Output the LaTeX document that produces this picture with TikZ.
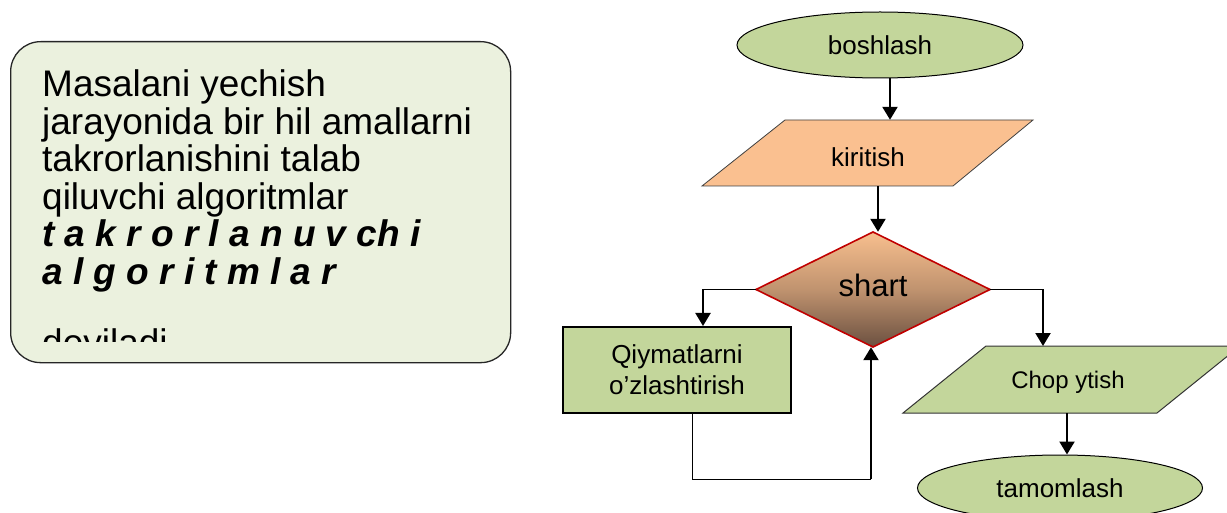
\documentclass[tikz,border=0pt]{standalone}
\usepackage{fontspec}
\setmainfont{Liberation Sans}
\usetikzlibrary{arrows.meta,shapes.geometric}
\definecolor{boxgreen}{HTML}{EBF1DE}
\definecolor{flowgreen}{HTML}{C3D69B}
\definecolor{inorange}{HTML}{FAC090}
\definecolor{shtop}{HTML}{F8BF8E}
\definecolor{shbot}{HTML}{6B5040}
\definecolor{shred}{HTML}{C00000}
\begin{document}
\begin{tikzpicture}[x=1pt,y=-1pt,
  arr/.style={line width=2.2pt,-{Triangle[length=13pt,width=15pt]}},
  thinline/.style={line width=1pt},
  bigtext/.style={anchor=base west,inner sep=0pt,font=\fontsize{37}{37}\selectfont},
  flowtext/.style={inner sep=0pt,font=\fontsize{26}{31}\selectfont}]
\useasboundingbox (0,0) rectangle (1227,513);
\clip (0,0) rectangle (1227,513);

% description box
\node[draw=black!85,line width=1.3pt,fill=boxgreen,rounded corners=30pt,
      minimum width=500pt,minimum height=321pt,anchor=north west,inner sep=0pt] (desc) at (10,41) {};
\begin{scope}
\clip (10,41) rectangle (510,341);
\node[bigtext] (l1) at (42,97) {Masalani yechish};
\node[bigtext] (l2) at (42,134.5) {jarayonida bir hil amallarni};
\node[bigtext] (l3) at (42,172) {takrorlanishini talab};
\node[bigtext] (l4) at (42,209.5) {qiluvchi algoritmlar};
\node[bigtext] (l5) at (42,247) {\textbf{\textit{t a k r o r l a n u v ch i}}};
\node[bigtext] (l6) at (42,284.5) {\textbf{\textit{a l g o r i t m l a r}}};
\node[bigtext] (l7) at (42,355) {deyiladi};
\end{scope}

% start
\node[ellipse,draw=black,line width=1pt,fill=flowgreen,minimum width=286pt,minimum height=66pt,flowtext] (start) at (880,45) {boshlash};

% input parallelogram
\draw[fill=inorange,draw=black!75,line width=0.8pt] (785,120) -- (1033,120) -- (953,186) -- (702,186) -- cycle;
\node[flowtext,minimum width=160pt,minimum height=66pt] (inp) at (868,153) {\raisebox{-4pt}[\height][\depth]{kiritish}};

% decision diamond
\shade[top color=shtop,bottom color=shbot,middle color=shtop!60!shbot] (873,232) -- (990,289.5) -- (873,347) -- (756,289.5) -- cycle;
\draw[draw=shred,line width=1.6pt] (873,232) -- (990,289.5) -- (873,347) -- (756,289.5) -- cycle;
\node[inner sep=0pt,minimum width=234pt,minimum height=115pt,font=\fontsize{31}{31}\selectfont] (cond) at (873,289.5) {\raisebox{4pt}[\height][\depth]{shart}};

% process rectangle
\node[draw=black,line width=2pt,fill=flowgreen,minimum width=228pt,minimum height=86pt,align=center,flowtext] (proc) at (677,370) {Qiymatlarni\\o’zlashtirish};

% output parallelogram
\draw[fill=flowgreen,draw=black!80,line width=1pt] (986,346) -- (1240,346) -- (1157,413) -- (903,413) -- cycle;
\node[inner sep=0pt,minimum width=160pt,minimum height=67pt,font=\fontsize{24}{28}\selectfont] (outp) at (1068,379.5) {\raisebox{-3pt}[\height][\depth]{Chop ytish}};

% end
\node[ellipse,draw=black,line width=1pt,fill=flowgreen,minimum width=285pt,minimum height=66pt,flowtext] (finish) at (1060,488) {tamomlash};

% connectors
\draw[arr] ([xshift=10pt]start.south) -- ([xshift=22pt]inp.north);
\draw[arr] ([xshift=10pt]inp.south) -- ([xshift=5pt]cond.north);

\coordinate (lk) at (703,289.5);
\draw[thinline] (cond.west) -- (lk);
\draw[arr] (lk) -- (lk |- proc.north);

\coordinate (rk) at (1043,289.5);
\draw[thinline] (cond.east) -- (rk);
\draw[arr] (rk) -- (1043,346);

\coordinate (lb) at (692,479);
\coordinate (rb) at (871,479);
\draw[thinline] (lb |- proc.south) -- (lb) -- (rb);
\draw[arr] (rb) -- ([xshift=-2pt]cond.south);

\draw[arr] ([xshift=-1pt]outp.south) -- ([xshift=7pt]finish.north);
\end{tikzpicture}
\end{document}
